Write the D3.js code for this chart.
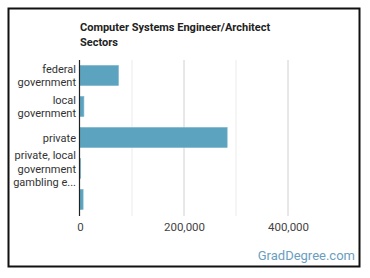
<!DOCTYPE html>
<html><head><meta charset="utf-8">
<script src="https://cdn.jsdelivr.net/npm/d3@7"></script>
<style>
html,body{margin:0;padding:0;background:#fff;}
svg{display:block;font-family:Roboto,"Liberation Sans",sans-serif;}
</style></head>
<body><svg id="c" width="370" height="278"></svg>
<script>
const title = ["Computer Systems Engineer/Architect", "Sectors"];
const categories = ["federal government", "local government", "private", "private, local government gambling establishments", ""];
const labelLines = [["federal", "government"], ["local", "government"], ["private"], ["private, local", "government", "gambling e..."], []];
const values = [74000, 7500, 283000, 1200, 6000];
const tickValues = [0, 200000, 400000];
const minorGrid = [100000, 300000];

const svg = d3.select("#c");
svg.append("rect").attr("x", 8.5).attr("y", 8.5).attr("width", 351).attr("height", 258)
  .attr("fill", "#fff").attr("stroke", "#111").attr("stroke-width", 2);

const x = d3.scaleLinear().domain([0, 500000]).range([80, 340]);
const y = d3.scaleBand().domain(categories).range([60, 215]).paddingInner(0.35).paddingOuter(0.175);

svg.append("g").selectAll("text").data(title).join("text")
  .attr("x", 80).attr("y", (d, i) => 31 + i * 15)
  .attr("font-size", 11).attr("font-weight", "bold").attr("fill", "#222").text(d => d);

svg.append("g").selectAll("line").data(minorGrid).join("line")
  .attr("x1", d => x(d)).attr("x2", d => x(d)).attr("y1", 60).attr("y2", 216)
  .attr("stroke", "#ebebeb").attr("stroke-width", 1);
svg.append("g").selectAll("line").data(tickValues.filter(d => d > 0)).join("line")
  .attr("x1", d => x(d)).attr("x2", d => x(d)).attr("y1", 60).attr("y2", 216)
  .attr("stroke", "#d0d0d0").attr("stroke-width", 1);

svg.append("g").selectAll("rect").data(values).join("rect")
  .attr("x", x(0)).attr("y", (d, i) => y(categories[i]))
  .attr("width", d => x(d) - x(0)).attr("height", y.bandwidth())
  .attr("fill", "#5ba3bf").attr("stroke", "#7bb6cd").attr("stroke-width", 0.6);

svg.append("line").attr("x1", 79.5).attr("x2", 79.5).attr("y1", 60).attr("y2", 216)
  .attr("stroke", "#222").attr("stroke-width", 1.2);

const lg = svg.append("g");
labelLines.forEach((lines, i) => {
  const cy = y(categories[i]) + y.bandwidth() / 2;
  const n = lines.length;
  lines.forEach((t, j) => {
    lg.append("text").attr("x", 76).attr("y", cy + (j - (n - 1) / 2) * 13.5 + 4)
      .attr("text-anchor", "end").attr("font-size", 11).attr("fill", "#333").text(t);
  });
});

const xAxis = d3.axisBottom(x).tickValues(tickValues).tickSize(0).tickPadding(0).tickFormat(d3.format(","));
const ga = svg.append("g").attr("transform", "translate(0,223)").call(xAxis);
ga.select(".domain").remove();
ga.selectAll("text").attr("font-size", 11.5).attr("fill", "#444").attr("dy", "0.71em")
  .attr("font-family", "Roboto,'Liberation Sans',sans-serif");

svg.append("text").attr("x", 355).attr("y", 260).attr("text-anchor", "end")
  .attr("font-size", 13).attr("fill", "#6a9ec0").text("GradDegree.com");
</script></body></html>
